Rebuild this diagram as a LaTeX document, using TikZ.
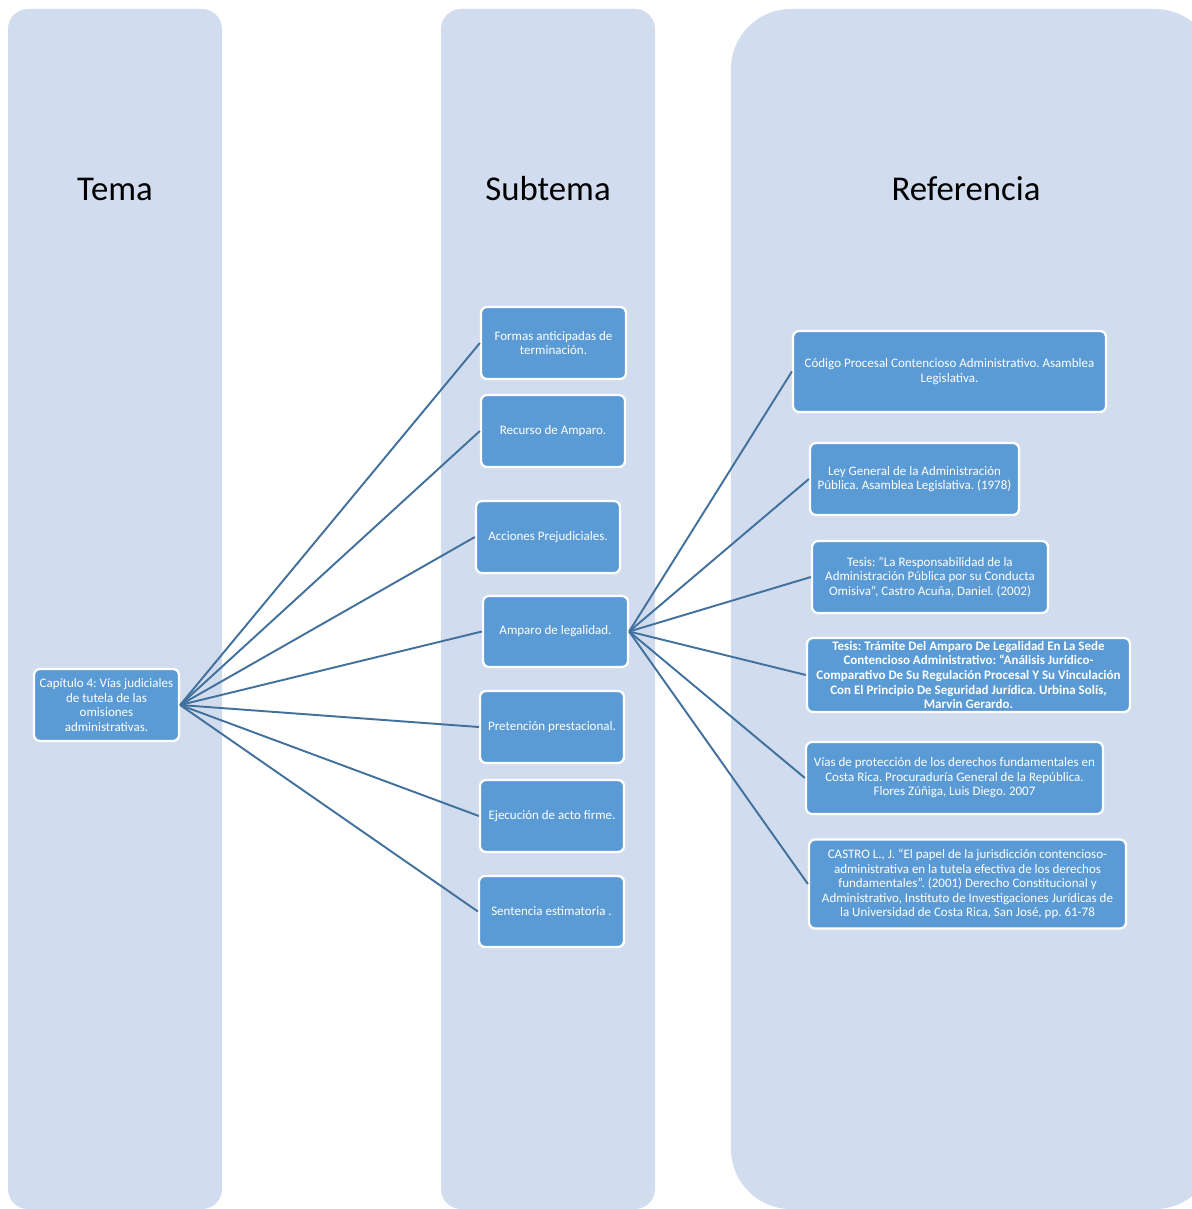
\documentclass[tikz,border=0pt]{standalone}
\usepackage{fontspec}
\setmainfont{Carlito}
\frenchspacing
\definecolor{fondo}{RGB}{209,220,238}
\definecolor{caja}{RGB}{91,155,213}
\definecolor{linea}{RGB}{65,113,156}
\tikzset{
  columna/.style={fill=fondo, draw=none},
  titulo/.style={font=\fontsize{19.8}{22}\selectfont},
  cajita/.style={rectangle, rounded corners=0.12cm, draw=white, line width=1.3pt,
    fill=caja, text=white, align=center, inner sep=0pt,
    font=\fontsize{7.4}{8.3}\selectfont},
  conector/.style={draw=linea, line width=1.1pt}
}
\begin{document}
\begin{tikzpicture}[x=0.02cm, y=-0.02cm]
	\useasboundingbox (0,0) rectangle (1192,1209);
	\clip (0,0) rectangle (1192,1209);

	% columnas
	\draw[columna, rounded corners=0.4cm] (8,9) rectangle (222,1209);
	\draw[columna, rounded corners=0.4cm] (441,9) rectangle (655,1209);
	\draw[columna, rounded corners=1.2cm] (731,9) rectangle (1215,1209);

	\node[titulo] (tema) at (115,189) {Tema};
	\node[titulo] (subtema) at (548,189) {Subtema};
	\node[titulo] (referencia) at (966,189) {Referencia};

	% tema
	\node[cajita, minimum width=2.9cm, minimum height=1.44cm] (cap) at (106.5,705) {Capítulo 4: Vías judiciales\\de tutela de las\\omisiones\\administrativas.};

	% subtemas
	\node[cajita, minimum width=2.9cm, minimum height=1.44cm] (formas) at (553.5,343) {Formas anticipadas de\\terminación.};
	\node[cajita, minimum width=2.88cm, minimum height=1.44cm] (recurso) at (553,431) {Recurso de Amparo.};
	\node[cajita, minimum width=2.88cm, minimum height=1.44cm] (acciones) at (548,537) {Acciones Prejudiciales.};
	\node[cajita, minimum width=2.9cm, minimum height=1.42cm] (amparo) at (555.5,631.5) {Amparo de legalidad.};
	\node[cajita, minimum width=2.88cm, minimum height=1.44cm] (pretencion) at (552,727) {Pretención prestacional.};
	\node[cajita, minimum width=2.88cm, minimum height=1.44cm] (ejecucion) at (552,816) {Ejecución de acto firme.};
	\node[cajita, minimum width=2.9cm, minimum height=1.42cm] (sentencia) at (551.5,911.5) {Sentencia estimatoria .};

	% referencias
	\node[cajita, minimum width=6.26cm, minimum height=1.62cm] (codigo) at (949.5,371.5) {Código Procesal Contencioso Administrativo. Asamblea\\Legislativa.};
	\node[cajita, minimum width=4.18cm, minimum height=1.44cm] (ley) at (914.5,479) {Ley General de la Administración\\Pública. Asamblea Legislativa. (1978)};
	\node[cajita, minimum width=4.72cm, minimum height=1.44cm] (tesisuno) at (930,577) {Tesis: "La Responsabilidad de la\\Administración Pública por su Conducta\\Omisiva", Castro Acuña, Daniel. (2002)};
	\node[cajita, minimum width=6.46cm, minimum height=1.48cm, font=\bfseries\fontsize{7.4}{8.3}\selectfont] (tesisdos) at (968.5,675) {Tesis: Trámite Del Amparo De Legalidad En La Sede\\Contencioso Administrativo: “Análisis Jurídico-\\Comparativo De Su Regulación Procesal Y Su Vinculación\\Con El Principio De Seguridad Jurídica. Urbina Solís,\\Marvin Gerardo.};
	\node[cajita, minimum width=5.94cm, minimum height=1.44cm] (vias) at (954.5,778) {Vías de protección de los derechos fundamentales en\\Costa Rica. Procuraduría General de la República.\\Flores Zúñiga, Luis Diego. 2007};
	\node[cajita, minimum width=6.34cm, minimum height=1.78cm] (castro) at (967.5,884) {CASTRO L., J. “El papel de la jurisdicción contencioso-\\administrativa en la tutela efectiva de los derechos\\fundamentales”. (2001) Derecho Constitucional y\\Administrativo, Instituto de Investigaciones Jurídicas de\\la Universidad de Costa Rica, San José, pp. 61-78};

	% conectores
	\foreach \s in {formas,recurso,acciones,amparo,pretencion,ejecucion,sentencia}
		\draw[conector] (cap.east) -- (\s.west);
	\foreach \r in {codigo,ley,tesisuno,tesisdos,vias,castro}
		\draw[conector] (amparo.east) -- (\r.west);
\end{tikzpicture}
\end{document}
